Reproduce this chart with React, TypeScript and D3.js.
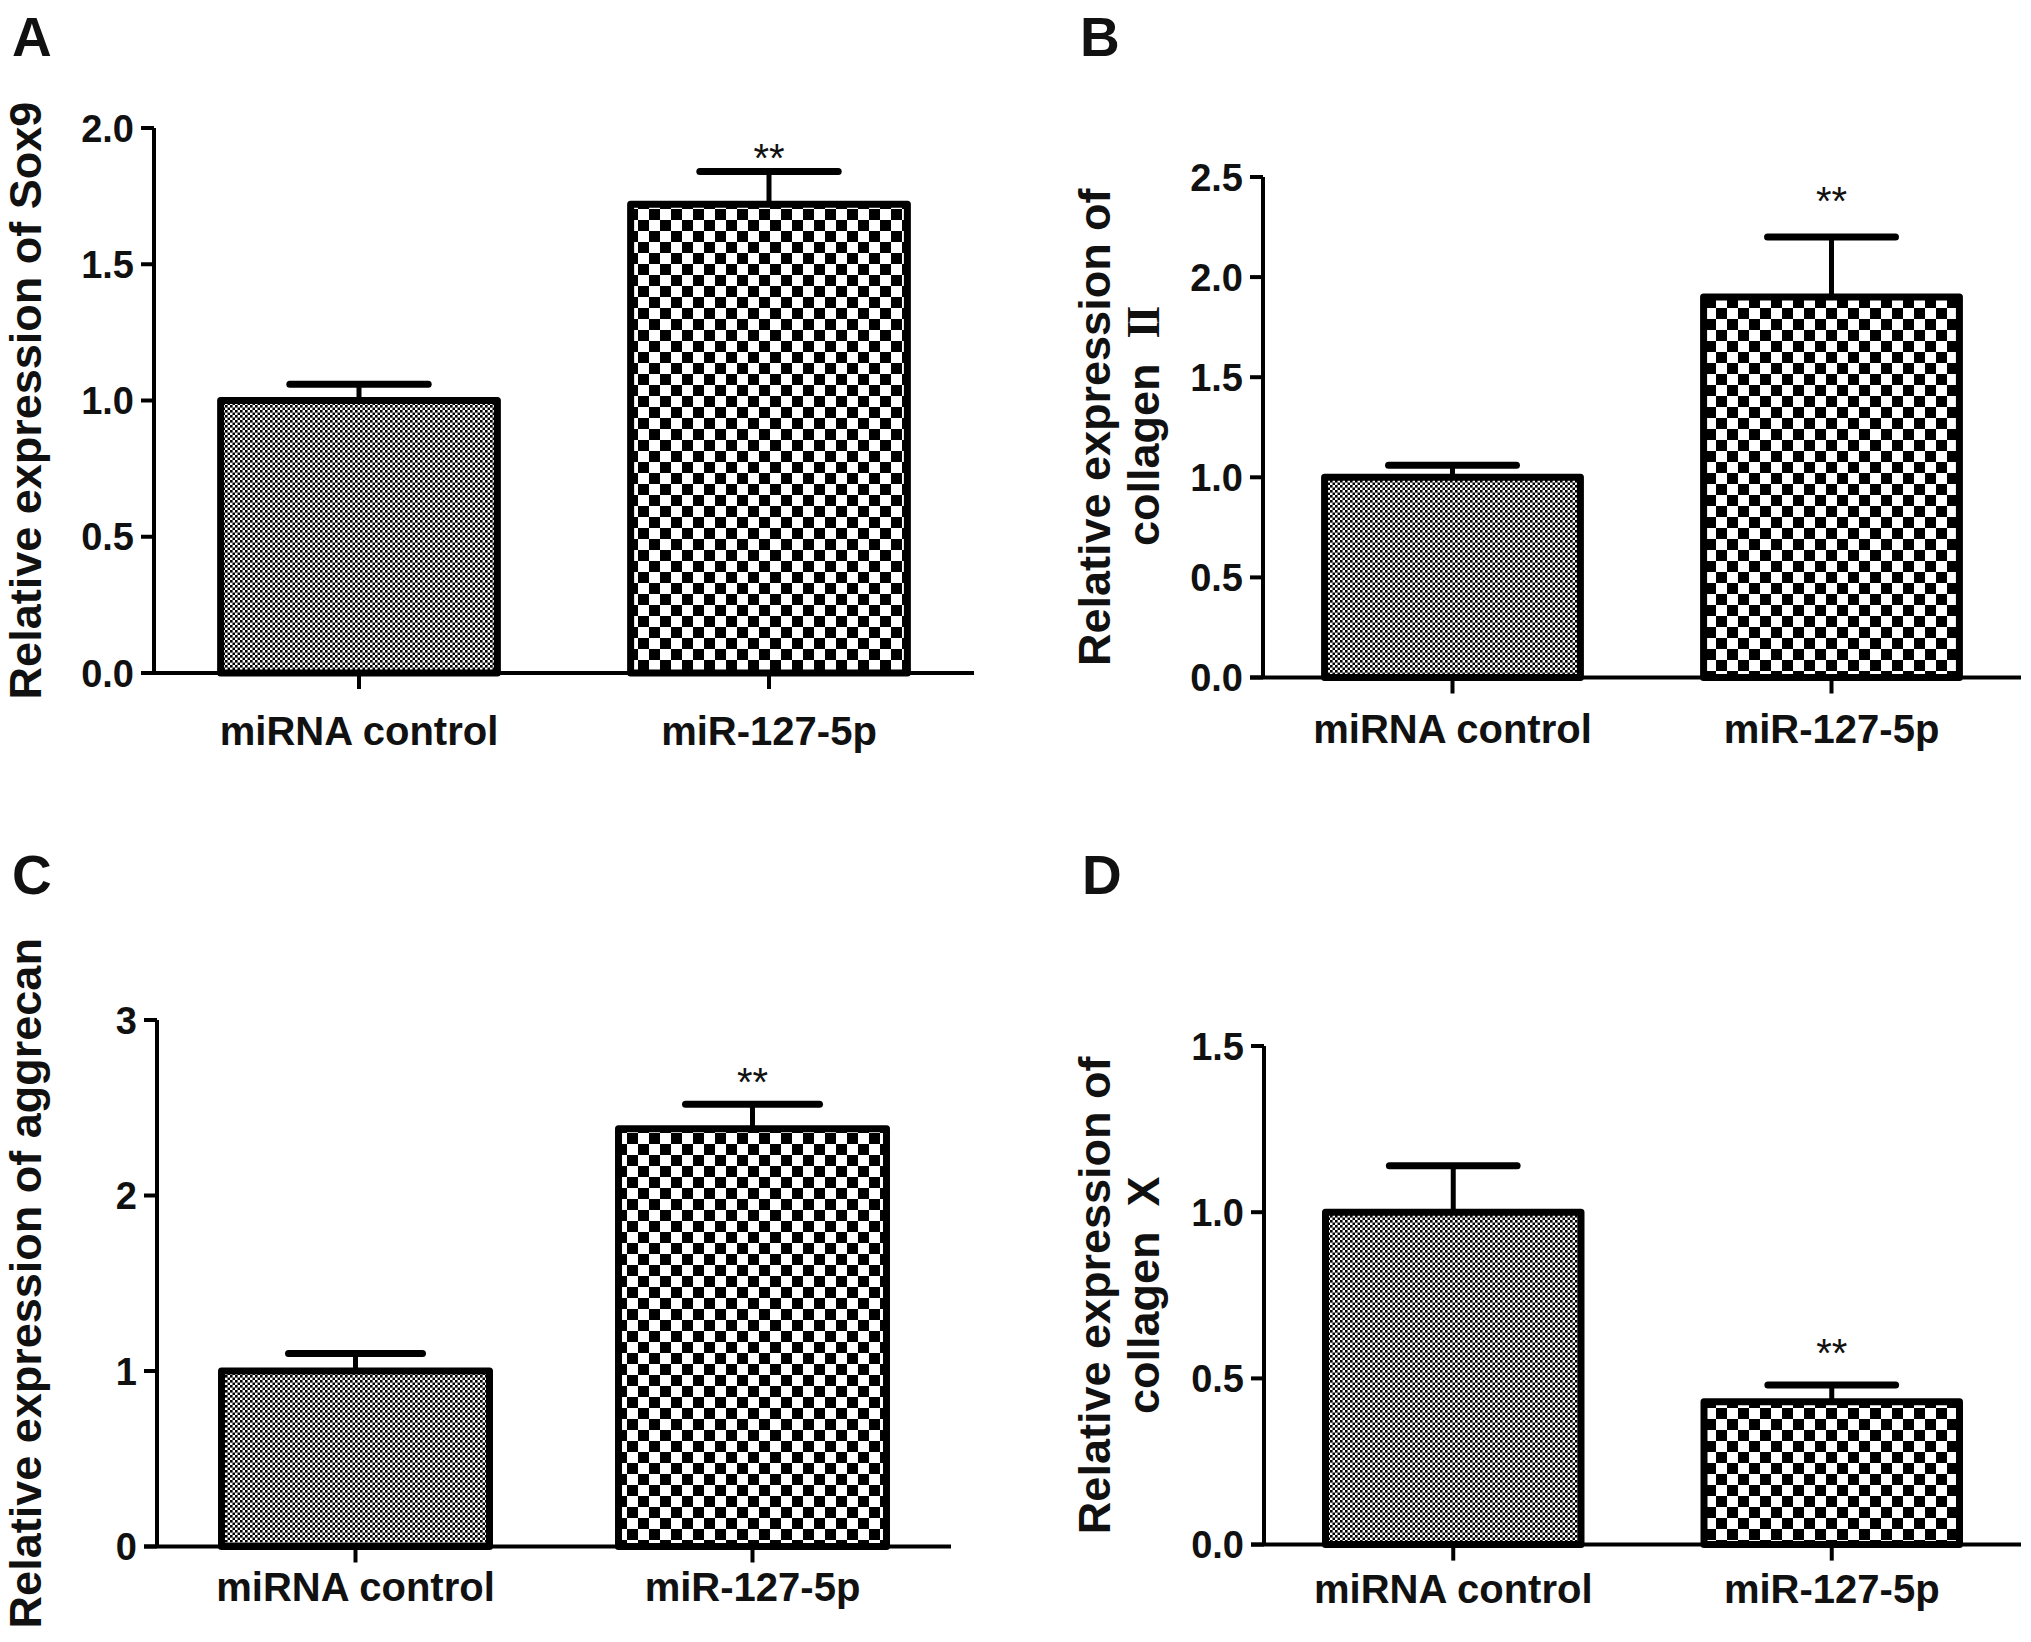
import React from "react";
import * as d3 from "d3";

// groups shared by every panel
const groups = ["miRNA control", "miR-127-5p"];
const sigMarks = ["", "**"];

// A: Sox9
const sox9Mean = [1.0, 1.72];
const sox9Err = [0.06, 0.12];
const sox9Ticks = [0, 0.5, 1.0, 1.5, 2.0];

// B: collagen II
const col2Mean = [1.0, 1.9];
const col2Err = [0.06, 0.3];
const col2Ticks = [0, 0.5, 1.0, 1.5, 2.0, 2.5];

// C: aggrecan
const aggMean = [1.0, 2.38];
const aggErr = [0.1, 0.14];
const aggTicks = [0, 1, 2, 3];

// D: collagen X
const col10Mean = [1.0, 0.43];
const col10Err = [0.14, 0.05];
const col10Ticks = [0, 0.5, 1.0, 1.5];

// value at which the "**" sits in each panel
const sigLevel = [1.92, 2.42, 2.69, 0.6];

const FONT = "'Liberation Sans', Arial, Helvetica, sans-serif";

const panels = [
  {
    letter: "A", letterX: 12, letterY: 56,
    mean: sox9Mean, err: sox9Err, ticks: sox9Ticks, fmt: ".1f", sig: sigLevel[0],
    x0: 154, x1: 974, yTop: 128, yBot: 673, catGap: 72,
    label: [["Relative expression of Sox9", ""]], labelX: 41,
  },
  {
    letter: "B", letterX: 1080, letterY: 56,
    mean: col2Mean, err: col2Err, ticks: col2Ticks, fmt: ".1f", sig: sigLevel[1],
    x0: 1263, x1: 2021, yTop: 177, yBot: 677.5, catGap: 65,
    label: [["Relative expression of", ""], ["collagen\u00a0\u00a0", "II"]], labelX: 1110,
  },
  {
    letter: "C", letterX: 12, letterY: 894,
    mean: aggMean, err: aggErr, ticks: aggTicks, fmt: "d", sig: sigLevel[2],
    x0: 157, x1: 951, yTop: 1020, yBot: 1546.5, catGap: 54,
    label: [["Relative expression of aggrecan", ""]], labelX: 41,
  },
  {
    letter: "D", letterX: 1082, letterY: 894,
    mean: col10Mean, err: col10Err, ticks: col10Ticks, fmt: ".1f", sig: sigLevel[3],
    x0: 1264, x1: 2021, yTop: 1046, yBot: 1544.6, catGap: 58,
    label: [["Relative expression of", ""], ["collagen\u00a0\u00a0X", ""]], labelX: 1110,
  },
];

const BarPanel = ({ p }: { p: any }) => {
  const maxTick = p.ticks[p.ticks.length - 1];
  const y = d3.scaleLinear().domain([0, maxTick]).range([p.yBot, p.yTop]);
  const x = d3.scalePoint().domain(groups).range([p.x0, p.x1]).padding(0.5);
  const bw = x.step() * 0.675;
  const fmt = d3.format(p.fmt);
  const midY = (p.yTop + p.yBot) / 2;

  return (
    <g fontFamily={FONT} fontWeight="bold" fill="#111">
      <text x={p.letterX} y={p.letterY} fontSize={55}>{p.letter}</text>

      {/* y label */}
      <g transform={`translate(${p.labelX},${midY}) rotate(-90)`}>
        {p.label.map((l: string[], i: number) => (
          <text key={i} x={0} y={i * 49} textAnchor="middle" fontSize={45} style={{ whiteSpace: "pre" }}>
            {l[0]}
            {l[1] ? (
              <tspan fontFamily="'Liberation Serif', 'DejaVu Serif', serif" fontSize={46} letterSpacing={-3}>
                {l[1]}
              </tspan>
            ) : null}
          </text>
        ))}
      </g>

      {/* error bars */}
      {groups.map((g, i) => {
        const cx = x(g)!;
        const top = y(p.mean[i] + p.err[i]);
        return (
          <g key={"e" + g} stroke="#000" strokeLinecap="round">
            <line x1={cx} x2={cx} y1={y(p.mean[i])} y2={top} strokeWidth={5} />
            <line x1={cx - bw / 4} x2={cx + bw / 4} y1={top} y2={top} strokeWidth={7} />
          </g>
        );
      })}

      {/* bars */}
      {groups.map((g, i) => (
        <rect
          key={"b" + g}
          x={x(g)! - bw / 2}
          y={y(p.mean[i])}
          width={bw}
          height={y(0) - y(p.mean[i])}
          fill={i === 0 ? "url(#fine)" : "url(#coarse)"}
          stroke="#000"
          strokeWidth={7}
          strokeLinejoin="round"
        />
      ))}

      {/* significance */}
      {groups.map((g, i) =>
        sigMarks[i] ? (
          <text key={"s" + g} x={x(g)!} y={y(p.sig)} dy="0.55em" textAnchor="middle" fontSize={40} fontWeight="normal">
            {sigMarks[i]}
          </text>
        ) : null
      )}

      {/* axes */}
      <g stroke="#000" strokeWidth={4}>
        <line x1={p.x0} x2={p.x0} y1={y(maxTick)} y2={y(0)} />
        <line x1={p.x0 - 13} x2={p.x1} y1={y(0)} y2={y(0)} />
        {p.ticks.map((t: number) => (
          <line key={t} x1={p.x0 - 13} x2={p.x0} y1={y(t)} y2={y(t)} />
        ))}
        {groups.map((g) => (
          <line key={g} x1={x(g)!} x2={x(g)!} y1={y(0)} y2={y(0) + 16} />
        ))}
      </g>

      {p.ticks.map((t: number) => (
        <text key={t} x={p.x0 - 20} y={y(t)} dy="0.36em" textAnchor="end" fontSize={38}>
          {fmt(t)}
        </text>
      ))}

      {groups.map((g) => (
        <text key={g} x={x(g)!} y={y(0) + p.catGap} textAnchor="middle" fontSize={40}>
          {g}
        </text>
      ))}
    </g>
  );
};

const App = () => {
  return (
    <svg
      width={2031}
      height={1642}
      style={{ position: "absolute", left: 0, top: 0, background: "#fff" }}
    >
      <defs>
        <pattern id="fine" width={5} height={5} patternUnits="userSpaceOnUse">
          <rect width={5} height={5} fill="#fff" />
          <rect width={2.6} height={2.6} fill="#000" />
          <rect x={2.5} y={2.5} width={2.6} height={2.6} fill="#000" />
        </pattern>
        <pattern id="coarse" width={22} height={22} patternUnits="userSpaceOnUse">
          <rect width={22} height={22} fill="#fff" />
          <rect width={11} height={11} fill="#000" />
          <rect x={11} y={11} width={11} height={11} fill="#000" />
        </pattern>
      </defs>
      <rect width={2031} height={1642} fill="#fff" />
      {panels.map((p) => (
        <BarPanel key={p.letter} p={p} />
      ))}
    </svg>
  );
};

export default App;
